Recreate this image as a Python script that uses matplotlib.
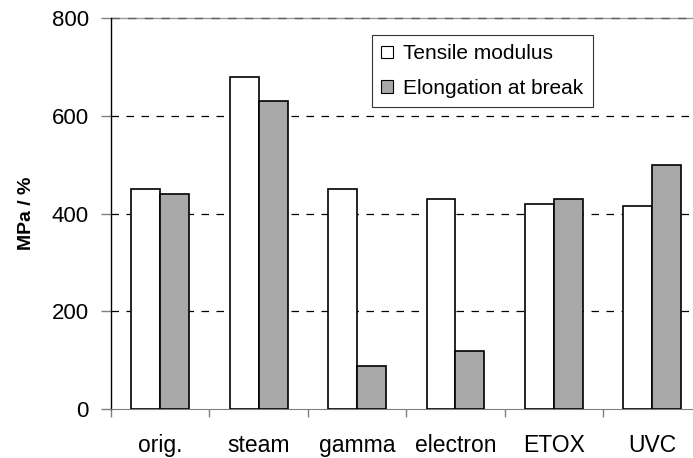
import matplotlib
matplotlib.use("Agg")
import matplotlib.pyplot as plt
import numpy as np

categories = ["orig.", "steam", "gamma", "electron", "ETOX", "UVC"]
tensile = [450, 680, 450, 430, 420, 415]
elongation = [440, 630, 87, 118, 430, 500]

plt.rcParams['font.family'] = ['Liberation Sans', 'DejaVu Sans']

fig = plt.figure(figsize=(6.93, 4.58), dpi=100)
left_px, right_px, top_px, bot_px = 111, 701.5, 18, 409
ax = fig.add_axes([left_px/693, 1-bot_px/458, (right_px-left_px)/693, (bot_px-top_px)/458])

x = np.arange(len(categories))
w = 0.294
ax.bar(x - w/2, tensile, w, color='white', edgecolor='black', linewidth=1.2,
       label='Tensile modulus', zorder=3)
ax.bar(x + w/2, elongation, w, color='#a8a8a8', edgecolor='black', linewidth=1.2,
       label='Elongation at break', zorder=3)

ax.set_xlim(-0.5, len(categories) - 0.5)
ax.set_ylim(0, 800)
ax.set_yticks([0, 200, 400, 600, 800])
for yv in [200, 400, 600]:
    ax.axhline(yv, color='black', linestyle=(0, (6, 6)), linewidth=0.9, zorder=1)
ax.axhline(800, color='#9a9a9a', linewidth=1.0, zorder=1, clip_on=False)
ax.axhline(800, color='#606060', linestyle=(0, (6, 6)), linewidth=1.0, zorder=1, clip_on=False)

ax.set_xticks(x)
ax.set_xticklabels(categories, fontsize=16.5)
ax.set_xticks(np.arange(len(categories) + 1) - 0.5, minor=True)
ax.tick_params(axis='x', which='major', length=0, pad=18)
ax.tick_params(axis='x', which='minor', length=6, color='#808080', width=1)
ax.tick_params(axis='y', length=7, color='#808080', width=1, labelsize=16, pad=9)

for s in ['top', 'right']:
    ax.spines[s].set_visible(False)
ax.spines['bottom'].set_color('#808080')
ax.spines['left'].set_color('black')
ax.spines['left'].set_linewidth(1.0)

ax.set_ylabel('MPa / %', fontsize=14, fontweight='bold', labelpad=12)

leg = ax.legend(loc='upper left', bbox_to_anchor=((372-left_px)/(right_px-left_px), (bot_px-35)/(bot_px-top_px)),
                fontsize=15, frameon=True, fancybox=False, edgecolor='black',
                handlelength=0.55, handleheight=0.55, handletextpad=0.5,
                borderpad=0.45, labelspacing=0.75, borderaxespad=0)
leg.get_frame().set_linewidth(0.8)
for p in leg.get_patches():
    p.set_linewidth(0.8)

fig.savefig('out.png', dpi=100)
